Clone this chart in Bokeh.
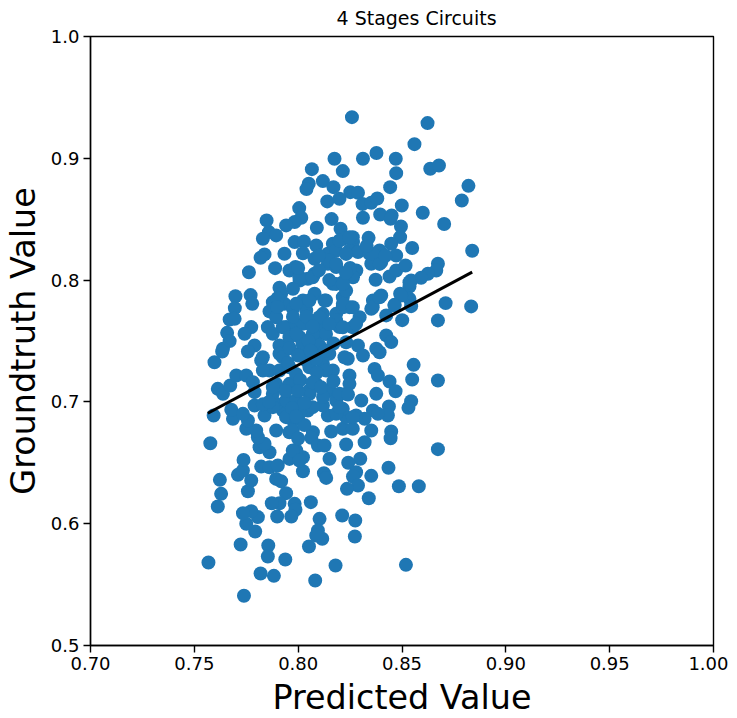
from bokeh.plotting import figure
from bokeh.models import FixedTicker, NumeralTickFormatter, Range1d
from bokeh.embed import file_html
from bokeh.resources import INLINE

title_text = "4 Stages Circuits"
x_label = "Predicted Value"
y_label = "Groundtruth Value"
x_ticks = [0.70, 0.75, 0.80, 0.85, 0.90, 0.95, 1.00]
y_ticks = [0.5, 0.6, 0.7, 0.8, 0.9, 1.0]
fit_x = [0.7565, 0.8838]
fit_y = [0.6907, 0.8065]

upper = [
(.8259,.9338),(.8623,.9289),(.8560,.9116),(.8175,.8996),(.8312,.8996),(.8377,.9043),(.8470,.8996),(.8472,.8878),
(.8066,.8911),(.8215,.8895),(.8636,.8914),(.8678,.8941),(.8820,.8774),(.8788,.8654),(.8443,.8763),(.8119,.8813),
(.8170,.8763),(.8051,.8791),(.8040,.8747),(.8251,.8722),(.8288,.8717),(.8140,.8646),(.8199,.8668),(.8310,.8624),
(.8352,.8635),(.8381,.8670),(.8499,.8613),(.8600,.8553),(.8703,.8460),(.8005,.8591),(.8015,.8512),(.7983,.8476),
(.7942,.8449),(.7848,.8490),(.8161,.8501),(.8312,.8512),(.8395,.8539),(.8450,.8531),(.8445,.8503),(.8090,.8430),
(.8204,.8421),(.8495,.8440),(.8491,.8353),(.8339,.8347),(.8549,.8263),(.8838,.8241),(.7859,.8394),(.7894,.8367),
(.7830,.8339),(.7983,.8312),(.8028,.8317),(.8087,.8284),(.7934,.8216),(.8023,.8221),(.7838,.8211),(.7819,.8183),
(.7763,.8065),(.7889,.8098),(.7958,.8079),(.7987,.8107),(.8079,.8175),(.8143,.8216),(.8167,.8298),(.8215,.8339),
(.8264,.8312),(.8247,.8243),(.8183,.8243),(.8143,.8134),(.8183,.8107),(.8288,.8230),(.8344,.8216),(.8392,.8243),
(.8448,.8298),(.8472,.8202),(.8352,.8134),(.8400,.8148),(.8280,.8079),(.8264,.8024),(.8373,.8003),(.8440,.8030),
(.8472,.8079),(.8517,.8120),(.8673,.8134),(.8665,.8079),(.8625,.8052),(.8592,.8019),(.8544,.7997),(.8536,.7948),
(.8079,.8052),(.8047,.8011),(.8007,.7997),(.8167,.7970),(.8215,.7983),(.7910,.7937),(.7975,.7929),(.7698,.7868),
(.7771,.7877),(.7779,.7805),(.7695,.7770),(.7862,.7743),(.7878,.7819),(.7918,.7888),(.7934,.7805),(.8079,.7888),
(.8127,.7833),(.8023,.7833),(.8215,.7860),(.8400,.7874),(.8360,.7833),(.8491,.7888),(.8536,.7846),(.8464,.7797),
(.8544,.7786),(.8710,.7811),(.8833,.7784),(.8673,.7669),(.8501,.7671),(.8424,.7710),(.8352,.7764),(.8247,.7778),
(.8296,.7696),(.8183,.7723),(.8119,.7723),(.8039,.7751),(.7975,.7764),(.7670,.7677),(.7694,.7682),(.7658,.7567),
(.7670,.7499),(.7774,.7614),(.7742,.7559),(.7854,.7614),(.7878,.7559),(.7942,.7614),(.7991,.7641),(.8055,.7641),
(.8119,.7614),(.8199,.7614),(.8007,.7532),(.8087,.7532),(.8424,.7546),(.8448,.7491),(.8288,.7463),(.8376,.7436),
(.7910,.7463),(.7790,.7463),(.7638,.7436),
]
lower = [
(.7634,.7414),(.7597,.7326),(.8556,.7304),(.8549,.7184),(.8673,.7176),(.8368,.7271),(.8384,.7217),(.8440,.7167),
(.8469,.7088),(.8376,.7066),(.8544,.7006),(.8531,.6951),(.8437,.6962),(.8432,.6888),(.8360,.6929),(.8384,.6902),
(.8304,.7011),(.8320,.6861),(.8352,.6765),(.8448,.6757),(.8445,.6702),(.8673,.6612),(.8320,.6669),(.8231,.6650),
(.8299,.6533),(.8241,.6500),(.8151,.6533),(.8435,.6459),(.8352,.6393),(.8279,.6423),(.8264,.6387),(.8288,.6314),
(.8235,.6286),(.8485,.6308),(.8581,.6308),(.8340,.6209),(.8124,.6415),(.8135,.6376),(.8061,.6177),(.8023,.6431),
(.7983,.6163),(.7987,.6114),(.7967,.6059),(.7942,.6251),(.7910,.6168),(.7873,.6168),(.7899,.6059),(.8212,.6067),
(.8275,.6026),(.8273,.5895),(.8103,.6040),(.8095,.5944),(.8116,.5876),(.8087,.5903),(.8052,.5813),(.7856,.5821),
(.7854,.5731),(.7938,.5706),(.8180,.5657),(.8519,.5662),(.8082,.5534),(.7883,.5572),(.7819,.5591),(.7739,.5408),
(.7568,.5681),(.7723,.5829),(.7793,.5936),(.7750,.6000),(.7806,.6054),(.7774,.6103),(.7734,.6086),(.7613,.6141),
(.7629,.6245),(.7623,.6360),(.7758,.6267),(.7774,.6355),(.7710,.6401),(.7734,.6437),(.7737,.6524),(.7577,.6661),
(.7822,.6469),(.7862,.6464),(.7902,.6478),(.7894,.6368),(.7918,.6349),(.7958,.6532),(.8023,.6546),(.7991,.6601),
(.7862,.6587),(.7814,.6628),(.7838,.6656),(.7806,.6710),(.7798,.6765),(.7750,.6779),(.7758,.6847),(.7686,.6861),
(.7678,.6935),(.7734,.6902),(.7790,.6970),(.7838,.6888),(.7593,.6888),(.7613,.7107),(.7638,.7066),(.7673,.7135),
(.7702,.7217),(.7750,.7217),(.7782,.7162),(.7790,.7080),(.7894,.6765),(.7958,.6751),(.8071,.6751),(.8063,.6705),
(.8095,.6642),(.8127,.6642),(.8159,.6757),(.8215,.6779),(.8263,.6779),(.8231,.6875),(.8143,.6888),(.8279,.6888),
(.8047,.6929),(.7975,.6847),(.7926,.6929),(.7991,.7011),(.8055,.7066),(.7894,.6984),(.7878,.7066),(.8119,.6970),
(.8183,.7011),(.8231,.7066),(.8151,.7094),(.8215,.6943),(.8087,.7148),(.7958,.7148),(.7894,.7148),(.8167,.7258),
(.8247,.7217),(.8239,.7354),(.8312,.7381),(.8392,.7408),(.7822,.7340),(.7862,.7258),(.7958,.7285),(.8039,.7340),
(.8119,.7313),(.7758,.7414),(.7910,.7395),(.8007,.7395),
]
dense_core = [
(.7990,.7805),(.8054,.7832),(.8134,.7832),(.8215,.7777),(.8022,.7641),(.8102,.7695),(.8183,.7668),(.8263,.7613),
(.7926,.7613),(.8070,.7558),(.8134,.7558),(.7958,.7531),(.8022,.7476),(.8102,.7463),(.8231,.7490),(.7894,.7695),
(.8183,.7969),(.8231,.7914),(.8006,.8024),(.8070,.8024),(.8151,.8161),(.8199,.8325),(.8183,.8133),(.8263,.8352),
(.7910,.7258),(.7990,.7230),(.8054,.7285),(.8134,.7258),(.7878,.7121),(.7942,.7011),(.7990,.7011),(.8054,.7094),
(.8134,.7094),(.8199,.7066),(.8070,.6957),(.8006,.6902),(.7942,.6875),(.8183,.6902),(.7974,.6765),(.7830,.7258),
(.7830,.7367),(.7926,.7367),(.8086,.7354),(.8150,.7395),(.8223,.7367),(.8247,.7148),(.7974,.6601),(.8006,.6519),
(.8199,.6957),(.8263,.6875),(.7878,.6957),(.8247,.8352),(.8231,.8215),(.8359,.8215),(.8392,.8133),(.8215,.7969),
(.8215,.7805),(.8263,.7777),(.8359,.7777),(.8392,.7859),(.8215,.7613),(.8279,.7641),(.8536,.7983),(.8496,.7873),
(.8464,.7791),(.7975,.7700),(.8040,.7700),(.8150,.7640),(.8070,.7620),(.7990,.7560),(.8050,.7500),(.8170,.7480),
(.7960,.7440),(.8000,.7380),(.8130,.7420),(.8060,.7420),(.7950,.7320),(.8090,.7240),(.8010,.7180),(.8070,.7160),
(.8170,.7170),(.7940,.7090),(.8000,.7090),(.8120,.7040),(.8030,.6990),(.7970,.6950),(.8110,.7120),(.8240,.7060),
(.8030,.6810),(.7990,.6880),(.8000,.6700),(.8150,.8000),(.8250,.8100),(.8000,.8100),(.8100,.8200),(.7900,.7850),
(.8100,.8080),(.8230,.8060),(.8330,.8280),(.8420,.8200),(.7830,.6980),(.7860,.7000),(.7900,.7780),
]
predicted = [a for a, _ in upper + lower + dense_core]
groundtruth = [b for _, b in upper + lower + dense_core]

p = figure(frame_width=623, frame_height=609, output_backend="svg", toolbar_location=None,
           x_range=Range1d(0.70, 1.00), y_range=Range1d(0.5, 1.0),
           min_border_left=83, min_border_right=15, min_border_top=28, min_border_bottom=0)
p.background_fill_color = "white"
p.border_fill_color = "white"
p.grid.visible = False
p.outline_line_color = "black"
p.outline_line_width = 1.4

p.title.text = title_text
p.title.align = "left"
p.title.vertical_align = "top"
p.title.text_font = "DejaVu Sans"
p.title.text_font_size = "19px"
p.title.text_font_style = "normal"
p.title.text_color = "black"
p.title.offset = 246
p.title.standoff = 12

p.xaxis.ticker = FixedTicker(ticks=x_ticks)
p.yaxis.ticker = FixedTicker(ticks=y_ticks)
p.xaxis.formatter = NumeralTickFormatter(format="0.00")
p.yaxis.formatter = NumeralTickFormatter(format="0.0")
for ax, label in ((p.xaxis, x_label), (p.yaxis, y_label)):
    ax.axis_label = label
    ax.axis_label_text_font = "DejaVu Sans"
    ax.axis_label_text_font_size = "33.4px"
    ax.axis_label_text_font_style = "normal"
    ax.axis_label_text_color = "black"
    ax.axis_label_text_line_height = 0.9
    ax.major_label_text_font = "DejaVu Sans"
    ax.major_label_text_font_size = "18px"
    ax.major_label_text_color = "black"
    ax.major_tick_in = 0
    ax.major_tick_out = 7
    ax.major_tick_line_width = 1.4
    ax.minor_tick_line_color = None
    ax.axis_line_width = 1.4
p.xaxis.major_label_standoff = 4
p.yaxis.major_label_standoff = 4
p.xaxis.axis_label_standoff = 5
p.yaxis.axis_label_standoff = 5
p.yaxis.major_label_orientation = "horizontal"

p.scatter(predicted, groundtruth, size=14, color="#1f77b4", line_color=None)
p.line(fit_x, fit_y, line_color="black", line_width=3)

open("out.html", "w").write(file_html(p, INLINE))
